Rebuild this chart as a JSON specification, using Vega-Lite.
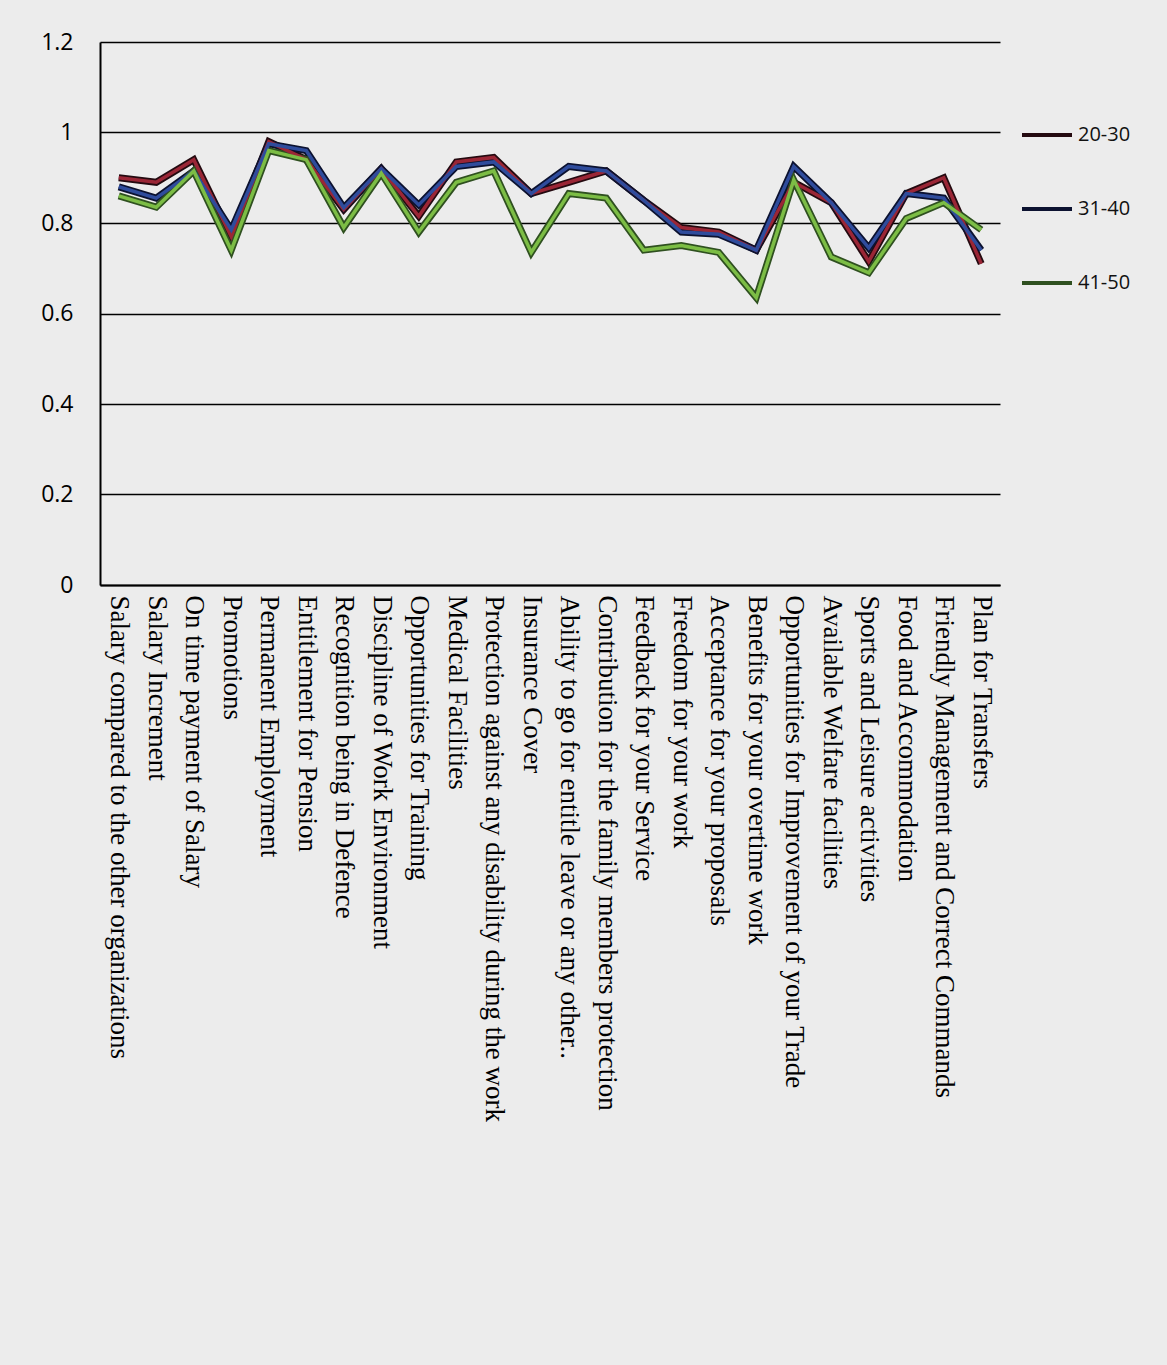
{
  "$schema": "https://vega.github.io/schema/vega-lite/v6.json",
  "autosize": {"type": "none"},
  "padding": {"left": 100, "top": 42, "right": 167, "bottom": 780},
  "width": 900,
  "height": 543,
  "background": "#ececec",
  "config": {
    "view": {"stroke": null},
    "axis": {"domainColor": "#000000", "domainWidth": 2, "gridColor": "#000000", "gridWidth": 1.6, "gridOpacity": 1, "ticks": false, "labelColor": "#000000"}
  },
  "data": {
    "values": [
      {"item": "Salary compared to the other organizations", "age": "20-30", "score": 0.90},
      {"item": "Salary compared to the other organizations", "age": "31-40", "score": 0.88},
      {"item": "Salary compared to the other organizations", "age": "41-50", "score": 0.86},
      {"item": "Salary Increment", "age": "20-30", "score": 0.89},
      {"item": "Salary Increment", "age": "31-40", "score": 0.855},
      {"item": "Salary Increment", "age": "41-50", "score": 0.835},
      {"item": "On time payment of Salary", "age": "20-30", "score": 0.94},
      {"item": "On time payment of Salary", "age": "31-40", "score": 0.915},
      {"item": "On time payment of Salary", "age": "41-50", "score": 0.915},
      {"item": "Promotions", "age": "20-30", "score": 0.77},
      {"item": "Promotions", "age": "31-40", "score": 0.785},
      {"item": "Promotions", "age": "41-50", "score": 0.74},
      {"item": "Permanent Employment", "age": "20-30", "score": 0.98},
      {"item": "Permanent Employment", "age": "31-40", "score": 0.975},
      {"item": "Permanent Employment", "age": "41-50", "score": 0.96},
      {"item": "Entitlement for Pension", "age": "20-30", "score": 0.94},
      {"item": "Entitlement for Pension", "age": "31-40", "score": 0.96},
      {"item": "Entitlement for Pension", "age": "41-50", "score": 0.94},
      {"item": "Recognition being in Defence", "age": "20-30", "score": 0.83},
      {"item": "Recognition being in Defence", "age": "31-40", "score": 0.834},
      {"item": "Recognition being in Defence", "age": "41-50", "score": 0.79},
      {"item": "Discipline of Work Environment", "age": "20-30", "score": 0.92},
      {"item": "Discipline of Work Environment", "age": "31-40", "score": 0.92},
      {"item": "Discipline of Work Environment", "age": "41-50", "score": 0.91},
      {"item": "Opportunities for Training", "age": "20-30", "score": 0.815},
      {"item": "Opportunities for Training", "age": "31-40", "score": 0.84},
      {"item": "Opportunities for Training", "age": "41-50", "score": 0.78},
      {"item": "Medical Facilities", "age": "20-30", "score": 0.935},
      {"item": "Medical Facilities", "age": "31-40", "score": 0.925},
      {"item": "Medical Facilities", "age": "41-50", "score": 0.89},
      {"item": "Protection against any disability during the work", "age": "20-30", "score": 0.945},
      {"item": "Protection against any disability during the work", "age": "31-40", "score": 0.935},
      {"item": "Protection against any disability during the work", "age": "41-50", "score": 0.915},
      {"item": "Insurance Cover", "age": "20-30", "score": 0.865},
      {"item": "Insurance Cover", "age": "31-40", "score": 0.865},
      {"item": "Insurance Cover", "age": "41-50", "score": 0.735},
      {"item": "Ability to go for entitle leave or any other..", "age": "20-30", "score": 0.89},
      {"item": "Ability to go for entitle leave or any other..", "age": "31-40", "score": 0.925},
      {"item": "Ability to go for entitle leave or any other..", "age": "41-50", "score": 0.865},
      {"item": "Contribution for the family members protection", "age": "20-30", "score": 0.915},
      {"item": "Contribution for the family members protection", "age": "31-40", "score": 0.915},
      {"item": "Contribution for the family members protection", "age": "41-50", "score": 0.855},
      {"item": "Feedback for your Service", "age": "20-30", "score": 0.85},
      {"item": "Feedback for your Service", "age": "31-40", "score": 0.85},
      {"item": "Feedback for your Service", "age": "41-50", "score": 0.74},
      {"item": "Freedom for your work", "age": "20-30", "score": 0.79},
      {"item": "Freedom for your work", "age": "31-40", "score": 0.78},
      {"item": "Freedom for your work", "age": "41-50", "score": 0.75},
      {"item": "Acceptance for your proposals", "age": "20-30", "score": 0.78},
      {"item": "Acceptance for your proposals", "age": "31-40", "score": 0.775},
      {"item": "Acceptance for your proposals", "age": "41-50", "score": 0.735},
      {"item": "Benefits for your overtime work", "age": "20-30", "score": 0.74},
      {"item": "Benefits for your overtime work", "age": "31-40", "score": 0.74},
      {"item": "Benefits for your overtime work", "age": "41-50", "score": 0.635},
      {"item": "Opportunities for Improvement of your Trade", "age": "20-30", "score": 0.89},
      {"item": "Opportunities for Improvement of your Trade", "age": "31-40", "score": 0.925},
      {"item": "Opportunities for Improvement of your Trade", "age": "41-50", "score": 0.895},
      {"item": "Available Welfare facilities", "age": "20-30", "score": 0.845},
      {"item": "Available Welfare facilities", "age": "31-40", "score": 0.845},
      {"item": "Available Welfare facilities", "age": "41-50", "score": 0.725},
      {"item": "Sports and Leisure activities", "age": "20-30", "score": 0.715},
      {"item": "Sports and Leisure activities", "age": "31-40", "score": 0.745},
      {"item": "Sports and Leisure activities", "age": "41-50", "score": 0.69},
      {"item": "Food and Accommodation", "age": "20-30", "score": 0.865},
      {"item": "Food and Accommodation", "age": "31-40", "score": 0.865},
      {"item": "Food and Accommodation", "age": "41-50", "score": 0.81},
      {"item": "Friendly Management and Correct Commands", "age": "20-30", "score": 0.90},
      {"item": "Friendly Management and Correct Commands", "age": "31-40", "score": 0.855},
      {"item": "Friendly Management and Correct Commands", "age": "41-50", "score": 0.845},
      {"item": "Plan for Transfers", "age": "20-30", "score": 0.71},
      {"item": "Plan for Transfers", "age": "31-40", "score": 0.74},
      {"item": "Plan for Transfers", "age": "41-50", "score": 0.785}
    ]
  },
  "encoding": {
    "x": {
      "field": "item", "type": "nominal", "sort": null,
      "scale": {"type": "point", "padding": 0.5},
      "axis": {
        "title": null, "labelAngle": 90, "labelAlign": "left", "labelBaseline": "middle",
        "labelFont": "Liberation Serif", "labelFontSize": 27, "labelPadding": 10,
        "labelLimit": 1000, "grid": false
      }
    },
    "y": {
      "field": "score", "type": "quantitative",
      "scale": {"domain": [0, 1.2], "nice": false, "zero": true},
      "axis": {
        "title": null, "values": [0, 0.2, 0.4, 0.6, 0.8, 1, 1.2], "format": "~g",
        "labelFont": "Open Sans", "labelFontSize": 23, "labelPadding": 27, "grid": true
      }
    }
  },
  "layer": [
    {
      "mark": {"type": "line", "strokeWidth": 7, "strokeJoin": "miter"},
      "encoding": {
        "color": {
          "field": "age", "type": "nominal",
          "scale": {"domain": ["20-30", "31-40", "41-50"], "range": ["#240a10", "#0c1230", "#2f5020"]},
          "legend": {
            "orient": "none", "legendX": 920, "legendY": 66, "title": null,
            "symbolType": "stroke", "symbolSize": 2500, "symbolStrokeWidth": 4,
            "labelFont": "Open Sans", "labelFontSize": 20, "labelColor": "#111111",
            "labelOffset": 4, "rowPadding": 37
          }
        }
      }
    },
    {
      "mark": {"type": "line", "strokeWidth": 3.5, "strokeJoin": "miter"},
      "encoding": {
        "color": {
          "field": "age", "type": "nominal",
          "scale": {"domain": ["20-30", "31-40", "41-50"], "range": ["#9a2636", "#2f4c9c", "#7cbd45"]},
          "legend": null
        }
      }
    }
  ],
  "resolve": {"scale": {"color": "independent"}, "legend": {"color": "independent"}}
}
